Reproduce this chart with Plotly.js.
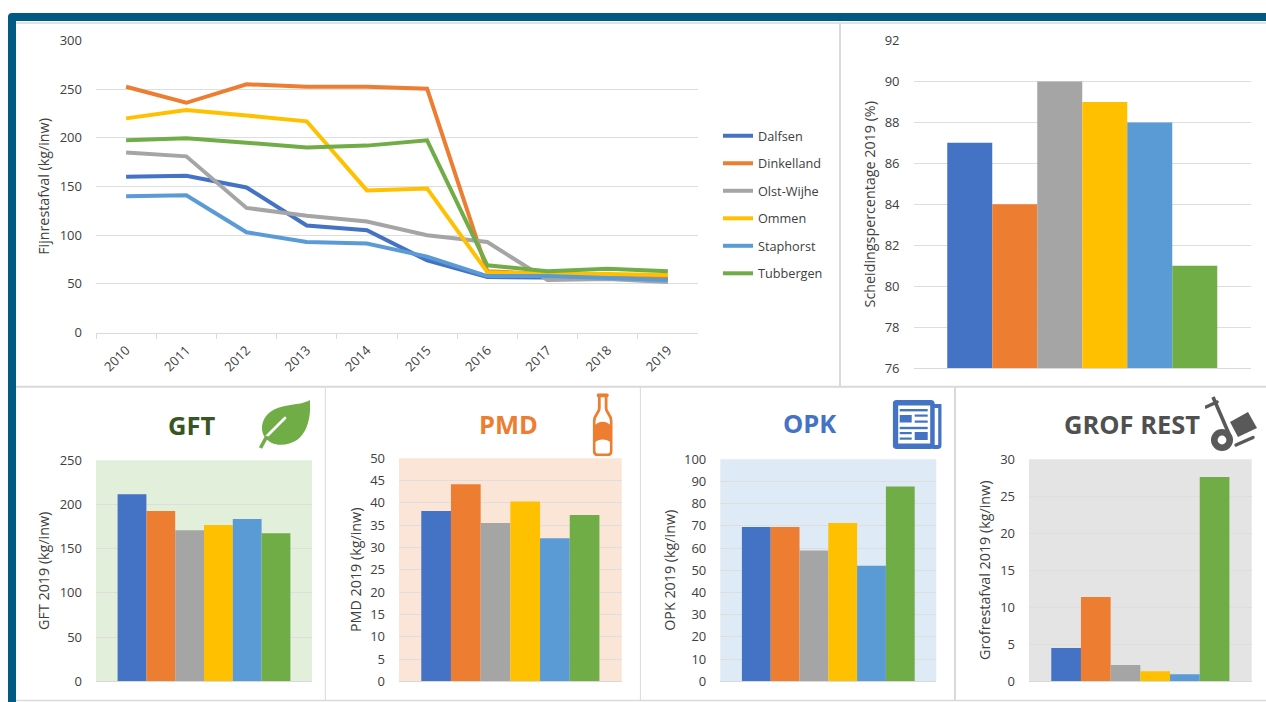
<!DOCTYPE html>
<html>
<head>
<meta charset="utf-8">
<script src="https://cdn.plot.ly/plotly-3.0.1.min.js"></script>
<style>html,body{margin:0;padding:0;background:#fff}#chart{width:1266px;height:702px}</style>
</head>
<body>
<div id="chart"></div>
<script>
const municipalities = ['Dalfsen','Dinkelland','Olst-Wijhe','Ommen','Staphorst','Tubbergen'];
const colors = ['#4472C4','#ED7D31','#A5A5A5','#FFC000','#5B9BD5','#70AD47'];
const years = ['2010','2011','2012','2013','2014','2015','2016','2017','2018','2019'];
const dalfsen    = [160,161,149,110,105,74,57,57,56,54];
const dinkelland = [252.5,236,255,252.5,252.5,250.5,63,60,57,57];
const olstWijhe  = [185,181,128,120,114,100,93,54,55,52];
const ommen      = [220,228.5,223,217,146,148,62,60,60,59];
const staphorst  = [140,141,103,93,91.5,78,58,58,56,54];
const tubbergen  = [197.5,199.5,195,190,192,197.5,69,63,65.5,63];
const scheiding = [87,84,90,89,88,81];
const gft = [211.5,192.7,170.8,176.8,183.6,167.4];
const pmd = [38.2,44.2,35.5,40.3,32.1,37.3];
const opk = [69.5,69.5,58.9,71.3,52.1,87.8];
const grof = [4.5,11.4,2.2,1.35,0.95,27.6];

const W = 1266, H = 702;
const FONT = '"Open Sans", sans-serif';
const TXT = '#404040', GRID = '#DEDEDE', SEP = '#D9D9D9', FRAME = '#005A82';
const px = v => v / W, py = v => 1 - v / H;

const lineSeries = [dalfsen,dinkelland,olstWijhe,ommen,staphorst,tubbergen];
const traces = lineSeries.map((y,i) => ({
  type:'scatter', mode:'lines', x:years, y:y, name:municipalities[i],
  legendgroup:municipalities[i], xaxis:'x', yaxis:'y',
  line:{color:colors[i], width:4, shape:'linear'}, hoverinfo:'skip'
}));

const layout = {
  width:W, height:H, margin:{l:0,r:0,t:0,b:0}, autosize:false,
  paper_bgcolor:'#fff', plot_bgcolor:'rgba(0,0,0,0)', showlegend:true, barmode:'group', bargap:0.2,
  font:{family:FONT, size:13, color:TXT},
  legend:{x:px(718), y:py(121), xanchor:'left', yanchor:'top', bgcolor:'rgba(0,0,0,0)',
    font:{family:FONT, size:12.7, color:TXT}, tracegroupgap:8, itemwidth:30, traceorder:'grouped'},
  shapes:[], annotations:[], images:[]
};

function yAxis(key, anchor, box, range, dtick, title, standoff){
  layout[key] = {
    domain:[py(box[3]), py(box[2])], range:range, dtick:dtick, tick0:range[0], anchor:anchor, fixedrange:true,
    showgrid:true, gridcolor:GRID, gridwidth:1, zeroline:false, showline:false, ticks:'', ticklabelstandoff:13,
    tickfont:{family:FONT,size:13,color:TXT},
    title:{text:title, font:{family:FONT,size:14.3,color:TXT}, standoff:standoff}
  };
}
function catAxis(key, anchor, box, n){
  layout[key] = {
    domain:[px(box[0]), px(box[1])], anchor:anchor, type:'category', range:[-0.5,n-0.5], fixedrange:true,
    showgrid:false, zeroline:false, showline:true, linecolor:SEP, linewidth:1
  };
}

// [left, right, top, bottom] of each plot area
const boxLine = [96,698,40.5,332.5];
catAxis('xaxis','y',boxLine,10);
Object.assign(layout.xaxis,{tickangle:-45, ticks:'outside', ticklen:5, tickcolor:SEP, tickson:'boundaries', ticklabelstandoff:4,
  tickfont:{family:FONT,size:13,color:TXT}, categoryorder:'array', categoryarray:years});
yAxis('yaxis','x',boxLine,[0,300],50,'Fijnrestafval (kg/inw)',6);

const barCharts = [
  {vals:scheiding, box:[913.5,1251,40.5,368], range:[76,92], dtick:2, title:'Scheidingspercentage 2019 (%)', so:5, bg:null},
  {vals:gft, box:[96,312,460.3,681.3], range:[0,250], dtick:50, title:'GFT 2019 (kg/inw)', so:6, bg:'#E2EFDA'},
  {vals:pmd, box:[399,621.7,458.3,681.3], range:[0,50], dtick:5, title:'PMD 2019 (kg/inw)', so:4.5, bg:'#FBE5D6'},
  {vals:opk, box:[720.3,936.3,459.3,681.3], range:[0,100], dtick:10, title:'OPK 2019 (kg/inw)', so:4.5, bg:'#DEEAF6'},
  {vals:grof, box:[1029,1251.7,459.3,681.3], range:[0,30], dtick:5, title:'Grofrestafval 2019 (kg/inw)', so:6, bg:'#E4E4E4'}
];
barCharts.forEach((c,k) => {
  const n = k+2, xa='x'+n, ya='y'+n;
  catAxis('xaxis'+n, ya, c.box, 1);
  layout['xaxis'+n].showticklabels = false;
  layout['xaxis'+n].ticks = '';
  yAxis('yaxis'+n, xa, c.box, c.range, c.dtick, c.title, c.so);
  c.vals.forEach((v,i) => traces.push({
    type:'bar', x:['2019'], y:[v], name:municipalities[i], xaxis:xa, yaxis:ya,
    marker:{color:colors[i], line:{width:0}}, showlegend:false, hoverinfo:'skip'
  }));
  if(c.bg) layout.shapes.push({type:'rect', layer:'below', xref:'paper', yref:'paper',
    x0:px(c.box[0]), x1:px(c.box[1]), y0:py(c.box[3]), y1:py(c.box[2]), fillcolor:c.bg, line:{width:0}});
});

// frame and panel separators
function sep(x0,y0,x1,y1,w){ layout.shapes.push({type:'line', layer:'below', xref:'paper', yref:'paper',
  x0:px(x0), x1:px(x1), y0:py(y0), y1:py(y1), line:{color:SEP,width:w}}); }
sep(16,23,1266,23,1.5); sep(16,386.7,1266,386.7,2); sep(16,700.4,1266,700.4,1.5);
sep(840,23,840,386,2); sep(325.3,387,325.3,700,1); sep(640.4,387,640.4,700,1); sep(955,387,955,700,2);
const fx = v => px(v).toFixed(5), fy = v => py(v).toFixed(5);
layout.shapes.push({type:'path', layer:'above', xref:'paper', yref:'paper', fillcolor:FRAME, line:{width:0},
  path:`M${fx(8)} ${fy(702)} L${fx(8)} ${fy(17)} Q${fx(8)} ${fy(13)} ${fx(12)} ${fy(13)} L${fx(1266)} ${fy(13)} L${fx(1266)} ${fy(21)} L${fx(16)} ${fy(21)} L${fx(16)} ${fy(702)} Z`});

// panel headings
[['GFT',191.5,425,'#375623'],['PMD',508.5,424,'#ED7D31'],['OPK',810,423,'#4472C4'],['GROF REST',1131.5,424,'#505050']].forEach(t => {
  layout.annotations.push({text:'<b>'+t[0]+'</b>', xref:'paper', yref:'paper', x:px(t[1]), y:py(t[2]),
    xanchor:'center', yanchor:'middle', showarrow:false, font:{family:FONT,size:25.5,color:t[3]}});
});

// icons
function svg(w,h,body){ return 'data:image/svg+xml;base64,'+btoa(`<svg xmlns="http://www.w3.org/2000/svg" width="${w*3}" height="${h*3}" viewBox="0 0 ${w} ${h}">${body}</svg>`); }
function icon(src,x0,y0,w,h){ layout.images.push({source:src, xref:'paper', yref:'paper', x:px(x0), y:py(y0), sizex:w/W, sizey:h/H,
  xanchor:'left', yanchor:'top', sizing:'stretch', layer:'above'}); }
icon(svg(51,49,`<path fill="#70AD47" d="M51 0C42 6 22 3 10 13C3 19 1 29 5 36C12 47 27 47 38 40C49 32 52 16 51 0Z"/>
<path d="M26 18L7 37" stroke="#fff" stroke-width="2.8" stroke-linecap="round" fill="none"/>
<path d="M8 36L1.5 48" stroke="#70AD47" stroke-width="3.6" fill="none"/>`),259,400,51,49);
icon(svg(20,63,`<rect x="4" y="0" width="12" height="4" rx="1.8" fill="#ED7D31"/>
<path fill="none" stroke="#ED7D31" stroke-width="2.8" d="M6.6 3V15C6.6 20 1.4 21 1.4 28V57C1.4 60 3 61.6 5 61.6H15C17 61.6 18.6 60 18.6 57V28C18.6 21 13.4 20 13.4 15V3"/>
<path fill="#ED7D31" d="M1.5 33C5 27 15 27 18.5 33V50C15 45 5 45 1.5 50Z"/>`),592.7,393.3,20,63);
const B='#4472C4';
icon(svg(49,49,`<rect x="0" y="0" width="42" height="49" rx="4" fill="${B}"/>
<path fill="${B}" d="M40 4H49V45C49 47.5 47.5 49 45 49H40Z"/>
<rect x="5.5" y="5.5" width="32" height="38" fill="#fff"/><rect x="42" y="8" width="3.5" height="37" fill="#fff"/>
<g fill="${B}"><rect x="7" y="9" width="28" height="2.4"/><rect x="7" y="15" width="12" height="7.5"/>
<rect x="22" y="14.5" width="13" height="2.2"/><rect x="22" y="20.5" width="13" height="2.2"/>
<rect x="7" y="26.8" width="28" height="2.4"/><rect x="7" y="32" width="12" height="2.2"/><rect x="7" y="37.5" width="12" height="2.2"/>
<rect x="22" y="32" width="13" height="8"/></g>`),892.7,400,49,49);
const C='#595959';
icon(svg(52,55,`<path d="M8 1L24 38" stroke="${C}" stroke-width="3.6" fill="none"/><path d="M1 11L12 6" stroke="${C}" stroke-width="3.4" stroke-linecap="round" fill="none"/>
<circle cx="17" cy="44" r="11" fill="${C}"/><circle cx="17" cy="44" r="4.4" fill="#fff"/>
<path fill="${C}" d="M25 26L43 16L52 32L33 41Z"/><path d="M31 49L48 41.5" stroke="${C}" stroke-width="3.4" stroke-linecap="round" fill="none"/>`),1205,396,52,55);

Plotly.newPlot('chart', traces, layout, {displayModeBar:false, staticPlot:true});
</script>
</body>
</html>
